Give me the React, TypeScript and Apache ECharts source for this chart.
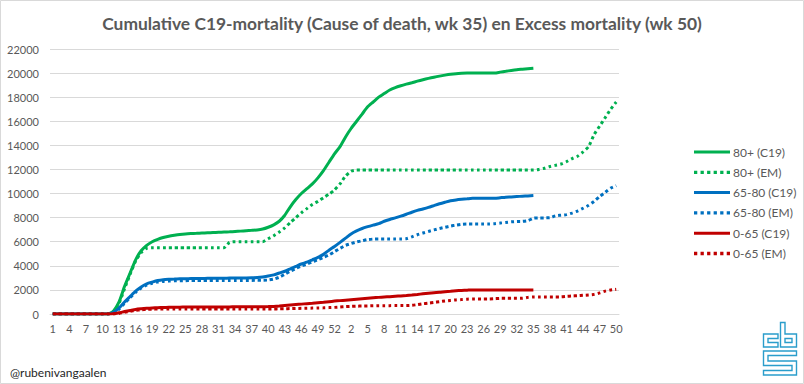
import React, { useEffect, useRef } from "react";
import * as echarts from "echarts";

const titleText = "Cumulative C19-mortality (Cause of death, wk 35) en Excess mortality (wk 50)";

const weeks2020 = [1,2,3,4,5,6,7,8,9,10,11,12,13,14,15,16,17,18,19,20,21,22,23,24,25,26,27,28,29,30,31,32,33,34,35,36,37,38,39,40,41,42,43,44,45,46,47,48,49,50,51,52,53];
const weeks2021 = [1,2,3,4,5,6,7,8,9,10,11,12,13,14,15,16,17,18,19,20,21,22,23,24,25,26,27,28,29,30,31,32,33,34,35,36,37,38,39,40,41,42,43,44,45,46,47,48,49,50];

const yTicks = { min: 0, max: 22000, interval: 2000 };

const seriesNames = ["80+ (C19)", "80+ (EM)", "65-80 (C19)", "65-80 (EM)", "0-65 (C19)", "0-65 (EM)"];

const green80C19 = [
  0,0,0,0,0,0,0,0,0,0,
  0,250,1000,2300,3400,4500,5250,5700,6000,6200,
  6350,6450,6530,6600,6650,6680,6700,6720,6740,6760,
  6780,6800,6820,6850,6880,6920,6950,6980,7050,7200,
  7400,7700,8200,8900,9500,10000,10400,10800,11300,11900,
  12600,13300,13900,14700,15400,16000,16600,17200,17600,18000,
  18300,18600,18800,18950,19080,19200,19330,19450,19560,19660,
  19750,19830,19900,19950,19980,20000,20000,20000,20000,20000,
  20000,20080,20150,20220,20280,20320,20360,20400,
];

const green80EM = [
  0,0,0,0,0,0,0,0,0,0,
  0,200,900,2100,3300,4400,5100,5450,5500,5500,
  5500,5500,5500,5500,5500,5500,5500,5500,5500,5500,
  5500,5500,5950,6000,6000,6000,6000,6000,6000,6250,
  6500,6800,7150,7600,8000,8400,8750,9100,9350,9650,
  9950,10300,10800,11450,11850,11950,11950,11950,11950,11950,
  11950,11950,11950,11950,11950,11950,11950,11950,11950,11950,
  11950,11950,11950,11950,11950,11950,11950,11950,11950,11950,
  11950,11950,11950,11950,11950,11950,11950,11950,12000,12100,
  12250,12350,12450,12650,12900,13100,13450,13900,14900,15600,
  16300,17000,17600,
];

const blue6580C19 = [
  0,0,0,0,0,0,0,0,0,0,
  0,150,500,1000,1450,1900,2250,2500,2650,2780,
  2850,2880,2900,2920,2930,2940,2950,2950,2960,2960,
  2970,2970,2980,2980,2990,2990,3000,3030,3080,3150,
  3250,3400,3550,3750,3950,4150,4300,4500,4700,4950,
  5300,5600,5950,6300,6650,6900,7100,7250,7380,7500,
  7700,7850,7980,8120,8280,8450,8600,8720,8850,9000,
  9150,9280,9400,9470,9520,9560,9600,9600,9600,9600,
  9600,9650,9700,9720,9750,9780,9800,9830,
];

const blue6580EM = [
  0,0,0,0,0,0,0,0,0,0,
  0,100,400,900,1350,1800,2150,2400,2550,2650,
  2700,2730,2750,2760,2770,2780,2780,2780,2780,2780,
  2780,2780,2780,2780,2780,2790,2790,2800,2800,2820,
  2900,3050,3300,3550,3780,3980,4150,4330,4500,4700,
  4900,5180,5450,5700,5850,5980,6080,6180,6220,6230,
  6230,6230,6230,6230,6250,6400,6580,6720,6850,6980,
  7100,7200,7300,7380,7450,7480,7480,7480,7480,7480,
  7500,7550,7600,7650,7680,7690,7750,7950,7980,7980,
  7990,8150,8200,8250,8380,8550,8780,9020,9350,9750,
  10100,10450,10650,
];

const red065C19 = [
  0,0,0,0,0,0,0,0,0,0,
  0,20,100,200,290,380,430,470,500,520,
  540,555,565,570,575,580,580,580,585,585,
  590,590,590,595,595,600,600,605,610,615,
  630,660,700,740,780,820,860,890,930,970,
  1020,1070,1110,1150,1190,1230,1270,1310,1350,1380,
  1410,1440,1470,1500,1530,1570,1620,1680,1730,1770,
  1800,1850,1890,1930,1960,1980,2000,2000,2000,2000,
  2000,2000,2000,2000,2000,2000,2000,2000,
];

const red065EM = [
  0,0,0,0,0,0,0,0,0,0,
  0,0,50,150,230,300,350,380,400,410,
  420,420,420,420,420,420,420,420,420,420,
  420,420,420,420,420,420,420,420,420,420,
  420,430,440,450,460,470,480,490,500,510,
  530,550,580,610,630,650,660,670,680,690,
  690,695,700,700,700,720,780,850,900,960,
  1020,1080,1130,1170,1200,1230,1250,1250,1250,1250,
  1270,1300,1300,1300,1300,1300,1380,1420,1420,1420,
  1420,1420,1420,1460,1490,1520,1550,1580,1630,1750,
  1900,2000,2050,
];

const seriesData = [green80C19, green80EM, blue6580C19, blue6580EM, red065C19, red065EM];
const seriesColors = ["#00B050", "#00B050", "#0070C0", "#0070C0", "#C00000", "#C00000"];
const seriesDotted = [false, true, false, true, false, true];

const watermark = "@rubenivangaalen";

const FONT = "Lato, 'Open Sans', sans-serif";
const TEXT_COLOR = "#595959";
const LOGO_COLOR = "#2A9DCB";

const SOLID_ICON = "path://M0,0H36V3H0Z";
const DOTTED_ICON =
  "path://M0,0H3V3H0ZM6,0H9V3H6ZM12,0H15V3H12ZM18,0H21V3H18ZM24,0H27V3H24ZM30,0H33V3H30Z";

export default function App() {
  const ref = useRef<HTMLDivElement>(null);

  useEffect(() => {
    document.body.style.margin = "0";
    if (!ref.current) return;
    const chart = echarts.init(ref.current, undefined, { renderer: "svg" });
    const categories = [...weeks2020, ...weeks2021].map(String);

    const logoOx = 763;
    const logoOy = 322;
    const logoShapes = [
      // c
      [[15, 12], [0.5, 12], [0.5, 25], [15, 25], [15, 20.5], [5, 20.5], [5, 16.5], [15, 16.5]],
      // b outer
      [[17.5, 0.5], [22, 0.5], [22, 12], [33.5, 12], [33.5, 25], [17.5, 25]],
      // b counter
      [[22, 16.5], [29, 16.5], [29, 20.5], [22, 20.5]],
      // s
      [[33.5, 29], [0.5, 29], [0.5, 43.5], [29, 43.5], [29, 48.5], [0.5, 48.5], [0.5, 53], [33.5, 53], [33.5, 39], [5, 39], [5, 33.5], [33.5, 33.5]],
    ];
    const logoEls = logoShapes.map((pts) => ({
      type: "polygon",
      shape: { points: pts.map(([x, y]) => [x + logoOx, y + logoOy]) },
      style: { stroke: LOGO_COLOR, lineWidth: 1.4, fill: null, lineJoin: "miter" },
      silent: true,
    }));

    chart.setOption({
      animation: false,
      backgroundColor: "#ffffff",
      title: {
        text: titleText,
        left: "center",
        top: 10,
        textStyle: { fontFamily: FONT, fontSize: 17.4, fontWeight: "bold", color: TEXT_COLOR },
      },
      legend: {
        orient: "vertical",
        left: 689,
        top: 141,
        itemWidth: 36,
        itemHeight: 14,
        itemGap: 8.3,
        data: seriesNames.map((name, k) => ({
          name,
          icon: seriesDotted[k] ? DOTTED_ICON : SOLID_ICON,
        })),
        textStyle: { fontFamily: FONT, fontSize: 12, color: TEXT_COLOR, padding: [0, 0, 0, -2] },
      },
      grid: { left: 50, right: 185, top: 49, bottom: 70 },
      xAxis: {
        type: "category",
        data: categories,
        boundaryGap: true,
        axisTick: { show: false },
        axisLine: { lineStyle: { color: "#D9D9D9" } },
        axisLabel: { interval: 2, color: TEXT_COLOR, fontFamily: FONT, fontSize: 11, margin: 9 },
      },
      yAxis: {
        type: "value",
        min: yTicks.min,
        max: yTicks.max,
        interval: yTicks.interval,
        axisLine: { show: false },
        axisTick: { show: false },
        splitLine: { lineStyle: { color: "#D9D9D9", width: 1 } },
        axisLabel: {
          color: TEXT_COLOR,
          fontFamily: FONT,
          fontSize: 11,
          margin: 11,
          formatter: (v: number) => String(v),
        },
      },
      series: seriesNames.map((name, k) => ({
        name,
        type: "line",
        data: seriesData[k],
        symbol: "none",
        smooth: 0.2,
        color: seriesColors[k],
        itemStyle: { color: seriesColors[k] },
        lineStyle: {
          color: seriesColors[k],
          width: 3,
          type: seriesDotted[k] ? "dotted" : "solid",
        },
      })),
      graphic: [
        {
          type: "rect",
          shape: { x: 0.5, y: 0.5, width: 803, height: 383 },
          style: { stroke: "#D9D9D9", fill: null, lineWidth: 1 },
          silent: true,
        },
        {
          type: "text",
          left: 10,
          top: 366,
          style: { text: watermark, fontFamily: FONT, fontSize: 12, fill: "#262626" },
          silent: true,
        },
        ...logoEls,
      ],
    });
    return () => chart.dispose();
  }, []);

  return <div ref={ref} style={{ width: 804, height: 384 }} />;
}
